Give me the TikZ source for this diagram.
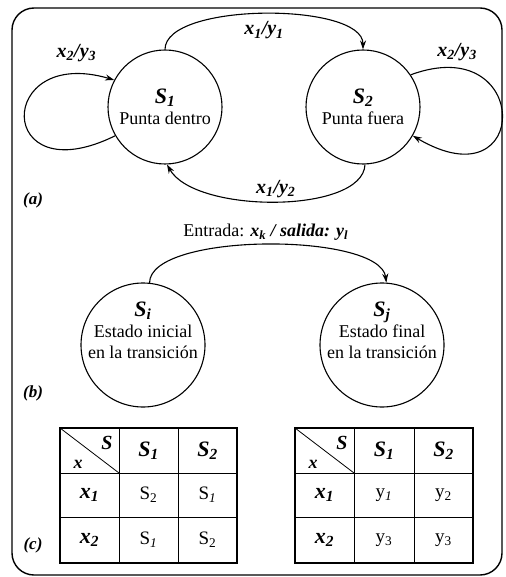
\documentclass[tikz,border=0pt]{standalone}
\usepackage{fontspec}
\setmainfont{Liberation Serif}
\usetikzlibrary{arrows.meta}
\newcommand{\bfit}[1]{\textbf{\textit{#1}}}
\begin{document}
\begin{tikzpicture}[x=1pt, y=-1pt, >={Stealth[length=9pt,width=6pt]}, auto,
  state/.style={draw, circle, line width=1.1pt, minimum size=114pt, inner sep=0pt, align=center, font=\fontsize{18}{21}\selectfont},
  big/.style={draw, circle, line width=1.1pt, minimum size=124pt, inner sep=0pt},
  trans/.style={->, line width=1.1pt},
  lbl/.style={font=\fontsize{20}{22}\selectfont\bfseries\itshape},
  part/.style={font=\fontsize{17}{19}\selectfont\bfseries\itshape},
  cell/.style={font=\fontsize{19}{21}\selectfont},
  head/.style={font=\fontsize{22}{24}\selectfont\bfseries\itshape}]
\useasboundingbox (0,0) rectangle (505,577);
\draw[line width=1.4pt, rounded corners=22pt] (12,8) rectangle (502,575);

\node[state] (s1) at (165,107) {{\fontsize{22}{24}\selectfont\bfit{S\textsubscript{1}}}\\Punta dentro};
\node[state] (s2) at (363,107) {{\fontsize{22}{24}\selectfont\bfit{S\textsubscript{2}}}\\Punta fuera};
\draw[trans] (s1.90) .. controls (165,2) and (363,2) .. node[lbl, below=4pt] {x\textsubscript{1}/y\textsubscript{1}} (s2.90);
\draw[trans] (s2.272) .. controls (363,214) and (195,214) .. node[lbl, above] {x\textsubscript{1}/y\textsubscript{2}} (s1.272);
\draw[trans] (s1.210) .. controls (-5,195) and (-5,45) .. node[lbl, above=9pt, pos=.88] {x\textsubscript{2}/y\textsubscript{3}} (s1.152);
\draw[trans] (s2.34) .. controls (532,30) and (532,206) .. node[lbl, above=3pt, pos=.15] {x\textsubscript{2}/y\textsubscript{3}} (s2.330);
\node[part] (pa) at (33,200) {(a)};

\node[big, label={[align=center, yshift=15pt, font=\fontsize{18}{21}\selectfont]center:{\fontsize{22}{24}\selectfont\bfit{S\textsubscript{i}}}\\Estado inicial\\en la transición}] (si) at (143,345) {};
\node[big, label={[align=center, yshift=15pt, font=\fontsize{18}{21}\selectfont]center:{\fontsize{22}{24}\selectfont\bfit{S\textsubscript{j}}}\\Estado final\\en la transición}] (sj) at (382,345) {};
\draw[trans] (si.84) .. controls (150,232) and (380,232) .. node[above, font=\fontsize{18}{20}\selectfont] {Entrada: \bfit{x\textsubscript{k} / salida: y\textsubscript{l}}} (sj.86);
\node[part] (pb) at (33,393) {(b)};

\foreach \c in {119,178} \draw[line width=.8pt] (\c,428) -- (\c,563);
\foreach \r in {473,517} \draw[line width=.8pt] (60,\r) -- (237,\r);
\draw[line width=.8pt] (60,428) -- (119,473);
\draw[line width=2.2pt] (60,428) rectangle (237,563);
\node[head, font=\fontsize{20}{22}\selectfont\bfseries\itshape] (es) at (107,443) {S};
\node[head, font=\fontsize{18}{20}\selectfont\bfseries\itshape] (ex) at (78,464) {x};
\node[head] (es1) at (148.5,450.5) {S\textsubscript{1}};
\node[head] (es2) at (207.5,450.5) {S\textsubscript{2}};
\node[head] (ex1) at (89.5,495) {x\textsubscript{1}};
\node[head] (ex2) at (89.5,540) {x\textsubscript{2}};
\node[cell] (e11) at (148.5,495) {S\textsubscript{2}};
\node[cell] (e12) at (207.5,495) {S\textsubscript{\textit{1}}};
\node[cell] (e21) at (148.5,540) {S\textsubscript{\textit{1}}};
\node[cell] (e22) at (207.5,540) {S\textsubscript{2}};

\foreach \c in {354,414} \draw[line width=.8pt] (\c,428) -- (\c,563);
\foreach \r in {473,517} \draw[line width=.8pt] (295,\r) -- (473,\r);
\draw[line width=.8pt] (295,428) -- (354,473);
\draw[line width=2.2pt] (295,428) rectangle (473,563);
\node[head, font=\fontsize{20}{22}\selectfont\bfseries\itshape] (ss) at (342,443) {S};
\node[head, font=\fontsize{18}{20}\selectfont\bfseries\itshape] (sx) at (313,464) {x};
\node[head] (ss1) at (384,450.5) {S\textsubscript{1}};
\node[head] (ss2) at (443.5,450.5) {S\textsubscript{2}};
\node[head] (sx1) at (324.5,495) {x\textsubscript{1}};
\node[head] (sx2) at (324.5,540) {x\textsubscript{2}};
\node[cell] (s11) at (384,495) {y\textsubscript{\textit{1}}};
\node[cell] (s12) at (443.5,495) {y\textsubscript{2}};
\node[cell] (s21) at (384,540) {y\textsubscript{3}};
\node[cell] (s22) at (443.5,540) {y\textsubscript{3}};
\node[part] (pc) at (33,545) {(c)};
\end{tikzpicture}
\end{document}
